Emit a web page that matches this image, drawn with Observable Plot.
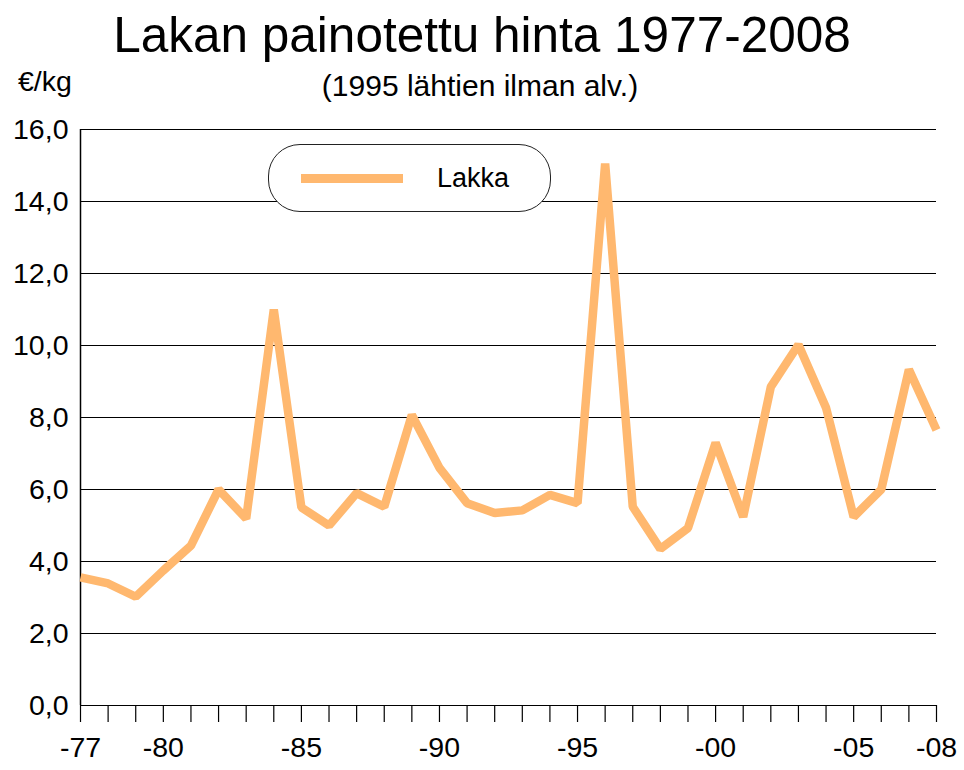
<!DOCTYPE html>
<html>
<head>
<meta charset="utf-8">
<script src="https://cdn.jsdelivr.net/npm/d3@7"></script>
<script src="https://cdn.jsdelivr.net/npm/@observablehq/plot@0.6"></script>
<style>
  html, body { margin: 0; padding: 0; background: #fff; }
  #wrap { position: relative; width: 964px; height: 770px; font-family: "Liberation Sans", Arial, sans-serif; color: #000; }
  #chart { position: absolute; left: 0; top: 0; }
  .abs { position: absolute; white-space: nowrap; line-height: 1; }
  #title { left: 0; width: 964px; text-align: center; top: 10px; font-size: 49.5px; }
  #subtitle { left: 0; width: 960px; text-align: center; top: 71px; font-size: 30px; }
  #unit { left: 18px; top: 67px; font-size: 28.5px; }
  #legend { left: 268px; top: 144px; width: 281px; height: 66px; border: 1.5px solid #222; border-radius: 32px; background: #fff; }
  #legline { position: absolute; left: 32px; top: 29px; width: 102px; height: 9px; }
  #legtext { position: absolute; left: 168px; top: 20px; font-size: 27px; line-height: 1; }
</style>
</head>
<body>
<div id="wrap">
  <div id="chart"></div>
  <div class="abs" id="title">Lakan painotettu hinta 1977-2008</div>
  <div class="abs" id="subtitle">(1995 lähtien ilman alv.)</div>
  <div class="abs" id="unit">€/kg</div>
  <div class="abs" id="legend"><div id="legline"></div><div id="legtext">Lakka</div></div>
</div>
<script>
const seriesName = "Lakka";
const seriesColor = "#ffb86f";
const years = [1977,1978,1979,1980,1981,1982,1983,1984,1985,1986,1987,1988,1989,1990,1991,1992,1993,1994,1995,1996,1997,1998,1999,2000,2001,2002,2003,2004,2005,2006,2007,2008];
const prices = [3.56,3.39,3.02,3.75,4.44,6.0,5.19,11.0,5.5,5.0,5.9,5.52,8.07,6.6,5.62,5.35,5.42,5.85,5.62,15.05,5.52,4.35,4.93,7.3,5.24,8.85,10.02,8.27,5.24,6.0,9.33,7.65];
const yTicks = [0,2,4,6,8,10,12,14,16];
const xLabelYears = [1977,1980,1985,1990,1995,2000,2005,2008];
const xLabels = ["-77","-80","-85","-90","-95","-00","-05","-08"];

const data = years.map((y, i) => ({year: y, value: prices[i]}));
const labelMap = new Map(xLabelYears.map((y, i) => [y, xLabels[i]]));

document.getElementById("legline").style.background = seriesColor;
document.getElementById("legtext").textContent = seriesName;

const chart = Plot.plot({
  width: 964,
  height: 770,
  marginLeft: 80,
  marginRight: 28,
  marginTop: 129,
  marginBottom: 65,
  style: {fontFamily: "'Liberation Sans', Arial, sans-serif", fontSize: "28px", color: "#000", background: "transparent"},
  x: {domain: [1977, 2008]},
  y: {domain: [0, 16]},
  marks: [
    Plot.ruleY(yTicks, {stroke: "#000", strokeWidth: 1.2}),
    Plot.ruleX([1977], {stroke: "#000", strokeWidth: 1.5}),
    Plot.axisY({ticks: yTicks, tickSize: 0, tickPadding: 12, tickFormat: d => d.toFixed(1).replace(".", ","), label: null, fontSize: 28.5}),
    Plot.axisX({ticks: years, tickSize: 17, tickPadding: 14, tickFormat: d => labelMap.get(d) ?? "", label: null, fontSize: 28.5, strokeWidth: 1.2}),
    Plot.line(data, {x: "year", y: "value", stroke: seriesColor, strokeWidth: 8.5, strokeLinejoin: "miter", strokeLinecap: "butt"})
  ]
});
document.getElementById("chart").appendChild(chart);
</script>
</body>
</html>
